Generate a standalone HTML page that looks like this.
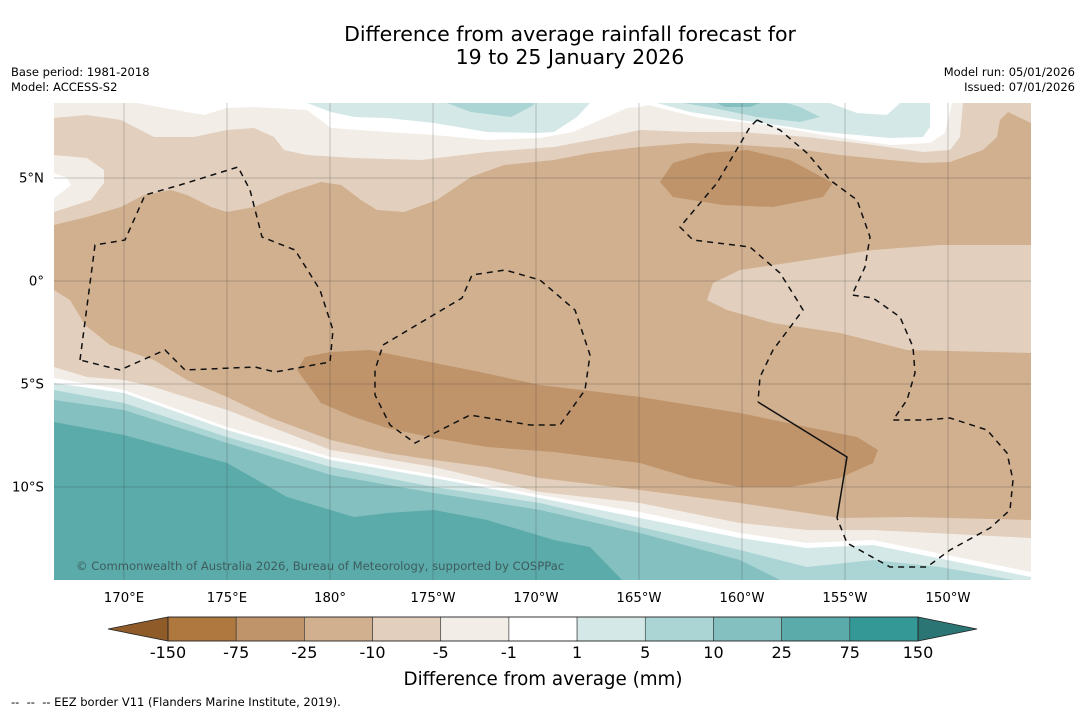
<!DOCTYPE html>
<html><head><meta charset="utf-8">
<style>
body{margin:0;background:#fff;width:1085px;height:713px;overflow:hidden;font-family:"DejaVu Sans","Liberation Sans",sans-serif;}
svg text{font-family:"DejaVu Sans","Liberation Sans",sans-serif;}
</style></head>
<body>
<svg id="chart" width="1085" height="713" viewBox="0 0 1085 713">
<text x="570" y="41" font-size="20.5" text-anchor="middle">Difference from average rainfall forecast for</text>
<text x="570" y="64" font-size="20.5" text-anchor="middle">19 to 25 January 2026</text>
<text x="11" y="76" font-size="11.5">Base period: 1981-2018</text>
<text x="11" y="91" font-size="11.5">Model: ACCESS-S2</text>
<text x="1075" y="76" font-size="11.5" text-anchor="end">Model run: 05/01/2026</text>
<text x="1075" y="91" font-size="11.5" text-anchor="end">Issued: 07/01/2026</text>
<defs><clipPath id="mapclip"><rect x="54" y="103" width="977" height="477"/></clipPath></defs>
<g id="map" clip-path="url(#mapclip)"></g>
<g id="grid"></g>
<g id="eez" clip-path="url(#mapclip)"></g>
<text x="76" y="570" font-size="11.6" fill="#3f5c5e">© Commonwealth of Australia 2026, Bureau of Meteorology, supported by COSPPac</text>
<g id="axes"></g>
<g id="cbar"></g>
<text x="543" y="685" font-size="18.3" text-anchor="middle">Difference from average (mm)</text>
<text x="11" y="706" font-size="11.5" style="white-space:pre">--  --  -- EEZ border V11 (Flanders Marine Institute, 2019).</text>
</svg>
<script>
const cbLevels=["-150","-75","-25","-10","-5","-1","1","5","10","25","75","150"];
const cbColors=["#ae783f","#bf946a","#d1b08f","#e2cfbd","#f2ede7","#ffffff","#d4e8e7","#aad5d4","#84c0bf","#5aabaa","#339896"];
const cbExtendLow="#8f5b28", cbExtendHigh="#2b7674";
const lonTicks=[170,175,180,-175,-170,-165,-160,-155,-150];
const lonLabels=["170°E","175°E","180°","175°W","170°W","165°W","160°W","155°W","150°W"];
const latTicks=[5,0,-5,-10];
const latLabels=["5°N","0°","5°S","10°S"];

const NS="http://www.w3.org/2000/svg";
function lonX(l){let e=l<0?360+l:l;return 124+(e-170)*20.6;}
function latY(l){return 281-l*20.6;}
function mk(tag,attrs,parent){const e=document.createElementNS(NS,tag);for(const k in attrs)e.setAttribute(k,attrs[k]);parent.appendChild(e);return e;}
function pts(a){return a.map(p=>p.join(",")).join(" ");}

const map=document.getElementById('map');
let bg=mk('rect',{x:54,y:103,width:977,height:477,fill:cbColors[2]},map);


function poly(points,fill,name){const p=mk('polygon',{points:pts(points),fill:fill},map);

return p;}
const C=cbColors;
poly([[54,103],[54,225],[87,217],[121,207],[144,195],[171,190],[187,195],[211,207],[227,212],[254,207],[287,193],[321,182],[341,185],[361,200],[377,210],[404,212],[437,200],[471,177],[504,165],[554,160],[590,153],[640,147],[690,143],[740,145],[790,148],[840,155],[890,160],[923,163],[950,162],[983,150],[997,137],[1000,120],[1008,112],[1031,123],[1031,103]],C[3],'band-top-beige');
poly([[54,103],[54,118],[87,115],[121,120],[154,137],[194,137],[227,130],[254,128],[274,137],[284,150],[307,155],[354,158],[421,160],[487,152],[554,147],[607,137],[640,130],[690,132],[740,132],[807,137],[873,145],[923,152],[950,150],[960,137],[963,103]],C[4],'band-top-cream');
poly([[54,155],[87,158],[104,170],[104,183],[91,200],[54,212]],C[4],'band-left-cream');
poly([[54,173],[67,178],[71,185],[61,193],[54,198]],C[5],'band-left-white');
poly([[137,103],[164,108],[204,115],[227,108],[254,107],[307,110],[331,128],[387,132],[434,135],[487,140],[540,138],[573,132],[607,117],[627,108],[640,107],[657,103]],C[5],'band-top-white');
poly([[640,103],[700,118],[760,124],[823,135],[890,145],[930,143],[945,133],[952,103]],C[5],'band-top-white-2');
poly([[307,103],[331,112],[354,117],[387,118],[434,123],[487,132],[537,133],[554,132],[577,117],[590,103]],C[6],'band-top-teal-1');
poly([[447,103],[471,112],[511,117],[534,105],[534,103]],C[7],'band-top-teal-2');
poly([[657,103],[690,112],[740,120],[790,127],[823,132],[857,135],[890,138],[923,137],[930,127],[930,103]],C[6],'band-top-teal-3');
poly([[830,103],[857,113],[887,115],[900,103]],C[5],'band-top-white-island');
poly([[683,103],[713,108],[757,117],[800,122],[820,117],[800,107],[787,103]],C[7],'band-top-teal-4');
poly([[717,103],[760,103],[750,107],[725,107]],C[8],'band-top-teal-5');
function bottomPoly(line,fill,name){poly(line.concat([[1031,580],[54,580]]),fill,name);}
bottomPoly([[54,290],[70,300],[85,325],[110,345],[154,360],[187,380],[227,397],[271,418],[331,440],[387,453],[434,460],[487,467],[540,478],[640,490],[740,503],[840,518],[907,517],[1031,520]],C[3],'band-bottom-beige');
bottomPoly([[54,367],[87,377],[124,380],[154,387],[227,410],[331,450],[434,467],[540,492],[640,503],[740,523],[807,530],[873,530],[1031,538]],C[4],'band-bottom-cream');
bottomPoly([[54,378],[124,390],[227,427],[331,457],[434,475],[540,495],[640,512],[740,533],[807,543],[873,540],[1031,572]],C[5],'band-bottom-white');
bottomPoly([[54,383],[124,393],[227,430],[331,460],[434,478],[540,498],[640,518],[740,538],[807,548],[873,545],[1031,577]],C[6],'band-bottom-teal-1');
bottomPoly([[54,390],[124,403],[227,437],[331,467],[434,487],[540,503],[640,527],[740,550],[807,567],[873,560],[940,567],[1031,583]],C[7],'band-bottom-teal-2');
bottomPoly([[54,400],[124,410],[227,443],[331,475],[434,493],[540,510],[640,533],[740,560],[790,585]],C[8],'band-bottom-teal-3');
bottomPoly([[54,422],[124,435],[227,463],[287,497],[354,517],[387,513],[434,510],[487,520],[554,540],[590,547],[627,585]],C[9],'band-bottom-teal-4');
poly([[707,300],[713,283],[740,270],[807,260],[873,250],[940,245],[1031,245],[1031,353],[907,350],[840,333],[773,323],[727,310]],C[3],'tongue-beige-east');
poly([[660,182],[673,163],[707,153],[747,150],[790,160],[833,183],[823,197],[773,207],[723,205],[673,197]],C[1],'blob-dry-north');
poly([[297,370],[305,357],[330,352],[370,350],[420,360],[480,372],[540,385],[640,397],[740,413],[807,427],[857,437],[878,450],[873,463],[840,478],[790,487],[740,487],[690,478],[640,463],[554,452],[487,447],[434,438],[387,428],[354,417],[321,403]],C[1],'blob-dry-south');

const grid=document.getElementById('grid');
lonTicks.forEach((l,i)=>{const x=lonX(l);const g=mk('line',{x1:x,x2:x,y1:103,y2:580,stroke:'#444',"stroke-width":0.5,"stroke-opacity":0.55},grid);

});
latTicks.forEach((l,i)=>{const y=latY(l);const g=mk('line',{x1:54,x2:1031,y1:y,y2:y,stroke:'#444',"stroke-width":0.5,"stroke-opacity":0.55},grid);

});
const axes=document.getElementById('axes');
lonTicks.forEach((l,i)=>{const t=mk('text',{x:lonX(l),y:602,"font-size":13.3,"text-anchor":"middle"},axes);t.textContent=lonLabels[i];

});
latTicks.forEach((l,i)=>{const t=mk('text',{x:44,y:latY(l)+4.5,"font-size":13.3,"text-anchor":"end"},axes);t.textContent=latLabels[i];

});

const eez=document.getElementById('eez');
function path(points,dash,name){const p=mk('polyline',{points:pts(points),fill:'none',stroke:'#111',"stroke-width":1.5,"stroke-dasharray":dash},eez);

}
path([[80,360],[95,245],[125,240],[145,195],[180,185],[238,167],[250,190],[262,237],[295,250],[320,290],[333,330],[330,362],[275,372],[255,367],[185,370],[165,350],[120,370],[80,360]],"6,5",'eez-tuvalu');
path([[383,345],[462,298],[472,275],[505,270],[540,280],[575,310],[590,355],[585,390],[560,425],[530,425],[470,415],[415,443],[390,425],[375,395],[375,370],[383,345]],"6,5",'eez-phoenix');
path([[757,120],[750,127],[717,183],[680,227],[693,240],[750,247],[780,273],[797,300],[803,310],[773,350],[760,377],[758,402]],"6,5",'eez-line-islands-west');
path([[758,402],[847,457],[837,518]],"none",'eez-solid-border');
path([[757,120],[780,130],[807,153],[830,180],[857,200],[870,237],[865,267],[852,295],[873,298],[900,317],[913,347],[915,373],[907,400],[893,420],[923,420],[950,418],[987,430],[1007,453],[1013,480],[1010,510],[990,528],[950,550],[927,567],[890,567],[847,543],[837,518]],"6,5",'eez-line-islands-east');

const cb=document.getElementById('cbar');
const x0=168,x1=918,yT=617,yB=641,w=(x1-x0)/cbColors.length;
let lo=mk('polygon',{points:pts([[x0,yT],[108,629],[x0,yB]]),fill:cbExtendLow,stroke:'#222',"stroke-width":0.8},cb);


let hi=mk('polygon',{points:pts([[x1,yT],[977,629],[x1,yB]]),fill:cbExtendHigh,stroke:'#222',"stroke-width":0.8},cb);


cbColors.forEach((c,i)=>{const r=mk('rect',{x:x0+i*w,y:yT,width:w,height:yB-yT,fill:c,stroke:'#333',"stroke-width":0.6},cb);

});
let fr=mk('rect',{x:x0,y:yT,width:x1-x0,height:yB-yT,fill:'none',stroke:'#222',"stroke-width":0.8},cb);


cbLevels.forEach((l,i)=>{const t=mk('text',{x:x0+i*w,y:658,"font-size":16,"text-anchor":"middle"},cb);t.textContent=l;

});
</script>
</body></html>
